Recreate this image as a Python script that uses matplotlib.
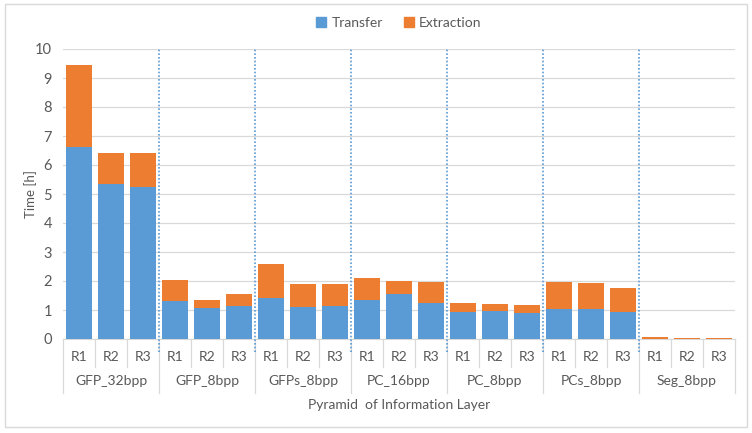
import matplotlib.pyplot as plt
import matplotlib.transforms as mtransforms
from matplotlib.patches import Rectangle, Patch

plt.rcParams['font.family'] = ['Lato', 'DejaVu Sans']

groups = ["GFP_32bpp", "GFP_8bpp", "GFPs_8bpp", "PC_16bpp", "PC_8bpp", "PCs_8bpp", "Seg_8bpp"]
runs = ["R1", "R2", "R3"]
# transfer part and total (transfer + extraction), per group R1..R3
transfer = [6.62, 5.33, 5.24,
            1.32, 1.07, 1.13,
            1.40, 1.10, 1.13,
            1.35, 1.55, 1.25,
            0.93, 0.97, 0.90,
            1.02, 1.02, 0.93,
            0.01, 0.01, 0.01]
total = [9.45, 6.42, 6.42,
         2.05, 1.35, 1.55,
         2.58, 1.90, 1.88,
         2.12, 2.00, 1.95,
         1.25, 1.22, 1.18,
         1.98, 1.92, 1.75,
         0.08, 0.04, 0.04]
extraction = [t - b for t, b in zip(total, transfer)]

blue = "#5B9BD5"
orange = "#ED7D31"
grey_txt = "#595959"

fig = plt.figure(figsize=(7.52, 4.33), dpi=100)
ax = fig.add_axes([63/752, 1 - 339/433, (735-63)/752, (339-49)/433])

x = list(range(len(transfer)))
ax.bar(x, transfer, width=0.82, color=blue, zorder=3)
ax.bar(x, extraction, bottom=transfer, width=0.82, color=orange, zorder=3)

ax.set_xlim(-0.5, len(x) - 0.5)
ax.set_ylim(0, 10)
ax.set_yticks(range(11))
ax.tick_params(axis='y', length=0, labelsize=10.5, colors=grey_txt, pad=8)
ax.set_xticks([])
ax.grid(axis='y', color="#D9D9D9", linewidth=0.9, zorder=0)
for s in ["top", "right", "left"]:
    ax.spines[s].set_visible(False)
ax.spines["bottom"].set_color("#D9D9D9")

ax.set_ylabel("Time [h]", fontsize=9.5, color=grey_txt)
ax.yaxis.set_label_coords(-(63-37)/672, 0.5)

trans = mtransforms.blended_transform_factory(ax.transData, ax.transAxes)

# dotted group separators
for g in range(1, len(groups)):
    ax.plot([g*3 - 0.5]*2, [-0.045, 1.0], transform=trans, clip_on=False,
            color=blue, linestyle=(0, (1, 1.2)), linewidth=1.2, zorder=4)

# multi-level category labels
for i in x:
    ax.text(i, -0.062, runs[i % 3], transform=trans, ha='center', va='center',
            fontsize=10, color=grey_txt)
    if i % 3 != 0:
        ax.plot([i - 0.5]*2, [0, -0.095], transform=trans, clip_on=False,
                color="#D9D9D9", linewidth=0.9)
for g, name in enumerate(groups):
    ax.text(g*3 + 1, -0.145, name, transform=trans, ha='center', va='center',
            fontsize=10, color=grey_txt)
for g in range(len(groups) + 1):
    ax.plot([g*3 - 0.5]*2, [0, -0.187], transform=trans, clip_on=False,
            color="#D9D9D9", linewidth=0.9)

ax.text(0.5, -0.228, "Pyramid  of Information Layer", transform=ax.transAxes,
        ha='center', va='center', fontsize=10, color=grey_txt)

handles = [Patch(color=blue, label="Transfer"), Patch(color=orange, label="Extraction")]
fig.legend(handles=handles, loc='center', bbox_to_anchor=(399/752, 1 - 23/433), ncol=2,
           frameon=False, fontsize=10, handlelength=0.7, handleheight=0.7,
           handletextpad=0.4, columnspacing=1.5, labelcolor=grey_txt)

fig.patches.append(Rectangle((5/752, 1 - 427/433), 742/752, 423/433, transform=fig.transFigure,
                             fill=False, edgecolor="#D9D9D9", linewidth=1))

fig.savefig("out.png", dpi=100)
